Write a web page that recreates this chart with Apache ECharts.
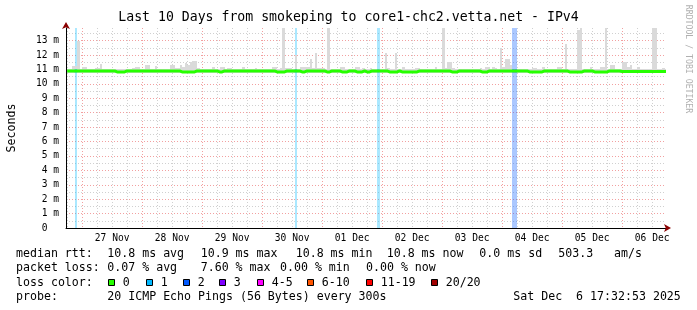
<!DOCTYPE html>
<html><head><meta charset="utf-8">
<script src="https://cdn.jsdelivr.net/npm/echarts@6/dist/echarts.min.js"></script>
<style>html,body{margin:0;padding:0;background:#fff}#c{width:697px;height:310px}</style>
</head><body><div id="c"></div>
<script>
const HOUR = 3600000;
const startTime = Date.UTC(2025, 10, 26, 17, 32, 53);
const endTime = Date.UTC(2025, 11, 6, 17, 32, 53);
const firstBin = Date.UTC(2025, 10, 26, 18, 0, 0);   // hourly bins from here
const yMax = 13.88;

// median rtt per hour (ms)
const median = [
10.9,10.9,10.9,10.9,10.9,10.9,10.9,10.9,10.9,10.9,10.9,10.9,10.9,10.9,10.9,10.9,10.9,10.9,10.9,10.83,10.83,10.83,10.83,10.9,
10.9,10.9,10.9,10.9,10.9,10.9,10.9,10.9,10.9,10.9,10.9,10.9,10.9,10.9,10.9,10.9,10.9,10.9,10.9,10.9,10.9,10.83,10.83,10.83,
10.83,10.83,10.83,10.9,10.9,10.9,10.9,10.9,10.9,10.9,10.9,10.9,10.83,10.83,10.9,10.9,10.9,10.9,10.9,10.9,10.9,10.9,10.9,10.9,
10.9,10.9,10.9,10.9,10.9,10.9,10.9,10.9,10.9,10.9,10.9,10.83,10.83,10.83,10.83,10.9,10.9,10.9,10.9,10.9,10.9,10.83,10.83,10.9,
10.9,10.9,10.9,10.9,10.9,10.9,10.9,10.83,10.83,10.9,10.9,10.9,10.9,10.83,10.83,10.83,10.9,10.9,10.9,10.83,10.83,10.83,10.9,10.83,
10.83,10.9,10.9,10.9,10.9,10.9,10.9,10.9,10.83,10.83,10.83,10.83,10.9,10.83,10.83,10.83,10.83,10.83,10.83,10.83,10.9,10.9,10.9,10.9,
10.9,10.9,10.9,10.9,10.9,10.9,10.9,10.9,10.9,10.83,10.83,10.83,10.9,10.9,10.9,10.9,10.9,10.9,10.9,10.9,10.9,10.83,10.83,10.83,
10.9,10.9,10.9,10.9,10.9,10.9,10.9,10.9,10.9,10.9,10.9,10.9,10.9,10.9,10.9,10.9,10.83,10.83,10.83,10.83,10.83,10.83,10.9,10.9,
10.9,10.9,10.9,10.9,10.9,10.9,10.9,10.9,10.83,10.83,10.83,10.83,10.83,10.83,10.9,10.9,10.9,10.9,10.83,10.83,10.83,10.83,10.83,10.83,
10.9,10.9,10.9,10.9,10.9,10.86,10.86,10.86,10.86,10.86,10.86,10.86,10.86,10.86,10.86,10.86,10.86,10.86,10.86,10.86,10.86,10.86,10.86,10.86
];
// smoke (ping spread) bottom per hour (ms)
const smokeLow = [
10.75,10.75,10.75,10.75,10.75,10.75,10.75,10.75,10.75,10.75,10.75,10.75,10.75,10.75,10.75,10.75,10.75,10.75,10.75,10.75,10.75,10.75,10.75,10.75,
10.75,10.75,10.75,10.75,10.75,10.75,10.75,10.75,10.75,10.75,10.75,10.75,10.75,10.75,10.75,10.75,10.75,10.75,10.75,10.75,10.75,10.75,10.75,10.75,
10.75,10.75,10.75,10.75,10.75,10.75,10.75,10.75,10.75,10.75,10.75,10.75,10.75,10.75,10.75,10.75,10.75,10.75,10.75,10.75,10.75,10.75,10.75,10.75,
10.75,10.75,10.75,10.75,10.75,10.75,10.75,10.75,10.75,10.75,10.75,10.75,10.75,10.75,10.75,10.75,10.75,10.75,10.75,10.75,10.75,10.75,10.75,10.75,
10.75,10.75,10.75,10.75,10.75,10.75,10.75,10.75,10.75,10.75,10.75,10.75,10.75,10.75,10.75,10.75,10.75,10.75,10.75,10.75,10.75,10.75,10.75,10.75,
10.75,10.75,10.75,10.75,10.75,10.75,10.75,10.75,10.75,10.75,10.75,10.75,10.75,10.75,10.75,10.75,10.75,10.75,10.75,10.75,10.75,10.75,10.75,10.75,
10.75,10.75,10.75,10.75,10.75,10.75,10.75,10.75,10.75,10.75,10.75,10.75,10.75,10.75,10.75,10.75,10.75,10.75,10.75,10.75,10.75,10.75,10.75,10.75,
10.75,10.75,10.75,10.75,10.75,10.75,10.75,10.75,10.75,10.75,10.75,10.75,10.75,10.75,10.75,10.75,10.75,10.75,10.75,10.75,10.75,10.75,10.75,10.75,
10.75,10.75,10.75,10.75,10.75,10.75,10.75,10.75,10.75,10.75,10.75,10.75,10.75,10.75,10.75,10.75,10.75,10.75,10.75,10.75,10.75,10.75,10.75,10.75,
10.75,10.75,10.75,10.75,10.75,10.75,10.75,10.75,10.75,10.75,10.75,10.75,10.75,10.75,10.75,10.75,10.75,10.75,10.75,10.75,10.75,10.75,10.75,10.75
];
// smoke top per hour (ms)
const smokeHigh = [
11.0,11.05,11.25,11.25,13.0,11.0,11.2,11.2,11.0,11.0,11.05,11.1,11.1,11.35,11.0,11.0,11.05,11.0,11.0,11.0,11.05,11.0,11.0,11.05,
11.05,11.0,11.1,11.15,11.15,11.0,11.05,11.3,11.3,11.05,11.0,11.25,11.05,11.0,11.05,11.0,11.05,11.3,11.3,11.1,11.1,11.3,11.2,11.45,
11.3,11.5,11.56,11.56,11.1,11.05,11.0,11.05,11.0,11.05,11.15,11.0,11.05,11.2,11.2,11.0,11.1,11.1,11.0,11.05,11.0,11.05,11.15,11.0,
11.0,11.05,11.0,11.1,11.0,11.05,11.0,11.0,11.05,11.0,11.2,11.2,11.05,11.1,13.88,11.1,11.1,11.1,11.0,12.0,11.05,11.15,11.15,11.15,
11.15,11.75,11.1,12.17,11.1,11.1,11.1,11.05,13.88,11.0,11.05,11.0,11.0,11.2,11.2,11.05,11.0,11.05,11.0,11.2,11.2,11.0,11.13,11.0,
11.05,11.1,11.0,11.05,11.0,11.0,11.05,12.17,11.1,11.05,11.0,12.17,11.05,11.0,11.2,11.05,11.0,11.05,11.0,11.13,11.13,11.0,11.05,11.0,
11.0,11.05,11.0,11.2,11.0,11.05,13.88,11.1,11.55,11.55,11.1,11.05,11.0,11.0,11.05,11.0,11.0,11.05,11.0,11.0,11.05,11.1,11.0,11.2,
11.2,11.05,11.2,11.1,11.05,12.47,11.2,11.7,11.7,11.3,11.05,11.05,11.0,11.05,11.0,11.0,11.05,11.0,11.13,11.13,11.0,11.05,11.15,11.0,
11.05,11.0,11.05,11.0,11.2,11.2,11.05,12.75,11.0,11.05,11.0,11.05,13.75,13.88,11.05,11.0,11.05,11.15,11.0,11.05,11.0,11.2,11.2,13.88,
11.05,11.3,11.3,11.05,11.0,11.05,11.55,11.55,11.2,11.3,11.05,11.0,11.15,11.0,11.05,11.0,11.05,11.0,13.88,13.88,11.05,11.0,11.1,11.05
];
// hours (bin index) with packet loss, and lost pings out of 20
const lossBins = [3, 91, 124, 178, 179];
const lossCounts = [1, 1, 1, 2, 2];

const lossLabels = ['0', '1', '2', '3', '4-5', '6-10', '11-19', '20/20'];
const lossLimits = [0, 1, 2, 3, 5, 10, 19, 20];
const lossColors = ['#26ff00', '#00b8ff', '#0059ff', '#7e00ff', '#ff00ff', '#ff5500', '#ff0000', '#a10000'];

const dayLabels = ['27 Nov', '28 Nov', '29 Nov', '30 Nov', '01 Dec', '02 Dec', '03 Dec', '04 Dec', '05 Dec', '06 Dec'];
const firstNoon = Date.UTC(2025, 10, 27, 12, 0, 0);

const titleText = 'Last 10 Days from smokeping to core1-chc2.vetta.net - IPv4';
const rttHead = 'median rtt:';
const rttStats = ['10.8 ms avg', '10.9 ms max', '10.8 ms min', '10.8 ms now', '0.0 ms sd', '503.3', 'am/s'];
const lossHead = 'packet loss:';
const lossStats = ['0.07 % avg', '7.60 % max', '0.00 % min', '0.00 % now'];
const colorHead = 'loss color:';
const probeHead = 'probe:';
const probeText = '20 ICMP Echo Pings (56 Bytes) every 300s';
const dateText = 'Sat Dec  6 17:32:53 2025';
const watermark = 'RRDTOOL / TOBI OETIKER';

// ---------- build ----------
const MONO = '"DejaVu Sans Mono", monospace';
const binTimes = median.map((_, i) => firstBin + i * HOUR);
const gridTimes = [];
for (let t = firstBin; t < endTime; t += 6 * HOUR) gridTimes.push(t);
const dayNoons = dayLabels.map((_, i) => firstNoon + i * 24 * HOUR);

function lossColorIndex(c) {
  for (let i = 0; i < lossLimits.length; i++) if (c <= lossLimits[i]) return i;
  return lossLimits.length - 1;
}
function hexA(hex, a) {
  const n = parseInt(hex.slice(1), 16);
  return `rgba(${n >> 16},${(n >> 8) & 255},${n & 255},${a})`;
}
function clipRect(p0, p1, cs) {
  const x0 = Math.round(Math.min(p0[0], p1[0])), x1 = Math.round(Math.max(p0[0], p1[0]));
  const y0 = Math.round(Math.min(p0[1], p1[1])), y1 = Math.round(Math.max(p0[1], p1[1]));
  return echarts.graphic.clipRectByRect({ x: x0, y: y0, width: x1 - x0, height: y1 - y0 },
    { x: cs.x, y: cs.y, width: cs.width, height: cs.height });
}

const smokeData = binTimes.map((t, i) => [t, smokeLow[i], smokeHigh[i]]);
const medianData = binTimes.map((t, i) => [t, median[i]]);
medianData.push([endTime, median[median.length - 1]]);
const lossData = lossBins.map((k, i) => [binTimes[k], lossCounts[i], median[k]]);

const graphics = [];
function txt(text, x, y, extra) {
  graphics.push(Object.assign({ type: 'text', x: x, y: y, silent: true,
    style: Object.assign({ text: text, fill: '#000', font: '11.6px ' + MONO, verticalAlign: 'middle' }, extra || {}) }));
}
const Y1 = 254.3, Y2 = 268.3, Y3 = 282.7, Y4 = 296.7;
txt(rttHead, 16, Y1);
[107.3, 200.7, 295.7, 386.7, 479.3, 558.3, 614].forEach((x, i) => txt(rttStats[i], x, Y1));
txt(lossHead, 16, Y2);
[107.3, 200.7, 280, 366].forEach((x, i) => txt(lossStats[i], x, Y2));
txt(colorHead, 16, Y3);
[108, 146, 183, 219, 257, 307, 366, 431].forEach((x, i) => {
  graphics.push({ type: 'rect', silent: true, shape: { x: x + 0.5, y: 279.5, width: 6, height: 6 },
    style: { fill: lossColors[i], stroke: '#000', lineWidth: 1 } });
  txt(lossLabels[i], x + 14.7, Y3);
});
txt(probeHead, 16, Y4);
txt(probeText, 107.3, Y4);
txt(dateText, 513.3, Y4);
graphics.push({ type: 'text', x: 688, y: 59, rotation: -Math.PI / 2, silent: true,
  style: { text: watermark, fill: '#b0b0b0', font: '8.2px ' + MONO, align: 'center', verticalAlign: 'middle' } });

const chart = echarts.init(document.getElementById('c'), null, { renderer: 'canvas' });
chart.setOption({
  animation: false,
  backgroundColor: '#fff',
  title: { text: titleText, left: 'center', top: 11, padding: 0,
    textStyle: { fontFamily: MONO, fontSize: 13.2, fontWeight: 'normal', color: '#000' } },
  grid: { left: 66, right: 31, top: 28, bottom: 82, containLabel: false, outerBoundsMode: 'none' },
  xAxis: [{
    type: 'value', min: startTime, max: endTime,
    axisLine: { show: true, onZero: false, lineStyle: { color: '#000', width: 1 } },
    axisTick: { show: false, customValues: gridTimes },
    axisLabel: { customValues: dayNoons, margin: 5, color: '#000', fontFamily: MONO, fontSize: 9.6,
      formatter: v => dayLabels[Math.round((v - firstNoon) / (24 * HOUR))] },
    splitLine: { show: true, lineStyle: { color: ['#d0d0d0', '#f2a0a0', '#d0d0d0', '#d0d0d0'], type: [1, 2], width: 1 } }
  }, {
    type: 'value', min: startTime, max: endTime, position: 'bottom',
    axisLine: { show: true, onZero: false, symbol: ['none', 'arrow'], symbolSize: [6, 7], symbolOffset: [0, 5],
      lineStyle: { color: '#8b0000', width: 0 } },
    axisTick: { show: false }, axisLabel: { show: false }, splitLine: { show: false }
  }],
  yAxis: [{
    type: 'value', min: 0, max: yMax, interval: 1,
    name: 'Seconds', nameLocation: 'middle', nameGap: 48,
    nameTextStyle: { fontFamily: MONO, fontSize: 11.6, color: '#000' },
    axisLine: { show: true, onZero: false, lineStyle: { color: '#000', width: 1 } },
    axisTick: { show: false },
    axisLabel: { margin: 7, color: '#000', fontFamily: MONO, fontSize: 9.6, showMaxLabel: false,
      formatter: v => (v === 0 ? '0  ' : (Number.isInteger(v) ? v + ' m' : '')) },
    splitLine: { show: true, showMaxLine: false, showMinLine: false, lineStyle: { color: '#f2a0a0', type: [1, 2], width: 1 } },
    minorTick: { show: false, splitNumber: 2 },
    minorSplitLine: { show: true, lineStyle: { color: '#d0d0d0', type: [1, 2], width: 1 } }
  }, {
    type: 'value', min: 0, max: yMax, position: 'left',
    axisLine: { show: true, onZero: false, symbol: ['none', 'arrow'], symbolSize: [6, 7], symbolOffset: [0, 6],
      lineStyle: { color: '#8b0000', width: 0 } },
    axisTick: { show: false }, axisLabel: { show: false }, splitLine: { show: false }
  }],
  series: [
    { name: 'lossBg', type: 'custom', xAxisIndex: 0, yAxisIndex: 0, data: lossData, silent: true,
      renderItem: (params, api) => {
        const t = api.value(0);
        const c = lossColors[lossColorIndex(api.value(1))];
        const shape = clipRect(api.coord([t, yMax]), api.coord([t + HOUR, 0]), params.coordSys);
        return shape ? { type: 'rect', shape: shape, style: { fill: hexA(c, 0.33) } } : null;
      } },
    { name: 'smoke', type: 'custom', xAxisIndex: 0, yAxisIndex: 0, data: smokeData, silent: true,
      renderItem: (params, api) => {
        const t = api.value(0);
        const shape = clipRect(api.coord([t, api.value(2)]), api.coord([t + HOUR, api.value(1)]), params.coordSys);
        return shape ? { type: 'rect', shape: shape, style: { fill: '#dadada' } } : null;
      } },
    { name: 'median', type: 'line', xAxisIndex: 0, yAxisIndex: 0, data: medianData, step: 'end',
      showSymbol: false, symbol: 'none', silent: true,
      lineStyle: { color: lossColors[0], width: 3 } },
    { name: 'lossMedian', type: 'custom', xAxisIndex: 0, yAxisIndex: 0, data: lossData, silent: true,
      renderItem: (params, api) => {
        const t = api.value(0);
        const c = lossColors[lossColorIndex(api.value(1))];
        const a = api.coord([t, api.value(2)]), b = api.coord([t + HOUR, api.value(2)]);
        return { type: 'line', shape: { x1: a[0], y1: a[1], x2: b[0], y2: b[1] }, style: { stroke: c, lineWidth: 3 } };
      } }
  ],
  graphic: graphics
});
</script>
</body></html>
